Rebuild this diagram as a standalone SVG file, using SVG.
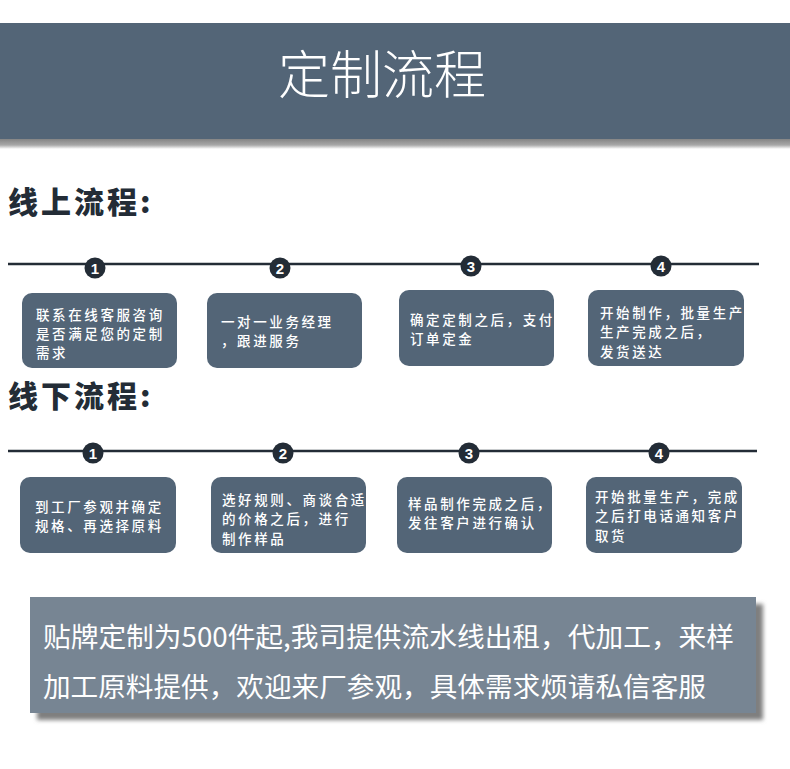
<svg xmlns="http://www.w3.org/2000/svg" width="790" height="769" viewBox="0 0 790 769">
<defs>
<style>
.box{fill:#536577}
.bt{fill:#ffffff;font-family:"Noto Sans CJK SC","Noto Sans",sans-serif;font-size:13.5px;font-weight:500;letter-spacing:2.6px}
.h2{fill:#232c36;font-family:"Noto Sans CJK SC","Noto Sans",sans-serif;font-size:30px;font-weight:900;letter-spacing:3px}
.line{stroke:#232c36;stroke-width:2.5}
.dot{fill:#232c36}
.num{fill:#ffffff;font-family:"Liberation Sans","DejaVu Sans",sans-serif;font-size:15px;font-weight:bold;text-anchor:middle}
.bn{fill:#ffffff;font-family:"Noto Sans CJK SC","Noto Sans",sans-serif;font-size:27px}
</style>
<linearGradient id="hs" x1="0" y1="0" x2="0" y2="1">
<stop offset="0" stop-color="#858585"/>
<stop offset="0.6" stop-color="#a8a8a8"/>
<stop offset="1" stop-color="#ffffff"/>
</linearGradient>
<filter id="blur" x="-5%" y="-20%" width="110%" height="140%">
<feGaussianBlur stdDeviation="2"/>
</filter>
</defs>
<rect width="790" height="769" fill="#ffffff"/>
<g id="header">
<rect x="0" y="139" width="790" height="10" fill="url(#hs)"/>
<rect x="0" y="23" width="790" height="116" fill="#536577"/>
<text x="382" y="94" text-anchor="middle" fill="#ffffff" font-family="Noto Sans CJK SC, sans-serif" font-size="52" font-weight="300">定制流程</text>
</g>
<g id="online-title"><text class="h2" x="8" y="213">线上流程:</text></g>
<g id="connectors">
<line class="line" x1="8" y1="264" x2="759" y2="264"/>
<line class="line" x1="8" y1="451" x2="757" y2="451"/>
</g>
<g id="on-n1"><circle class="dot" cx="95" cy="268" r="10.5"/><text class="num" x="95" y="273.5">1</text></g>
<g id="on-n2"><circle class="dot" cx="280" cy="268" r="10.5"/><text class="num" x="280" y="273.5">2</text></g>
<g id="on-n3"><circle class="dot" cx="471" cy="266" r="10.5"/><text class="num" x="471" y="271.5">3</text></g>
<g id="on-n4"><circle class="dot" cx="661" cy="266" r="10.5"/><text class="num" x="661" y="271.5">4</text></g>
<g id="on-box1"><rect class="box" x="22" y="293" width="155" height="75" rx="10"/>
<text class="bt" x="36" y="320">联系在线客服咨询</text><text class="bt" x="36" y="339">是否满足您的定制</text><text class="bt" x="36" y="358">需求</text></g>
<g id="on-box2"><rect class="box" x="207" y="293" width="155" height="75" rx="10"/>
<text class="bt" x="221" y="327">一对一业务经理</text><text class="bt" x="221" y="346">，跟进服务</text></g>
<g id="on-box3"><rect class="box" x="399" y="290" width="155" height="76" rx="10"/>
<text class="bt" x="410" y="325">确定定制之后，支付</text><text class="bt" x="410" y="344">订单定金</text></g>
<g id="on-box4"><rect class="box" x="588" y="290" width="156" height="76" rx="10"/>
<text class="bt" x="600" y="318">开始制作，批量生产</text><text class="bt" x="600" y="337">生产完成之后，</text><text class="bt" x="600" y="357">发货送达</text></g>
<g id="offline-title"><text class="h2" x="8" y="407">线下流程:</text></g>
<g id="off-n1"><circle class="dot" cx="93" cy="453" r="10.5"/><text class="num" x="93" y="458.5">1</text></g>
<g id="off-n2"><circle class="dot" cx="283" cy="453" r="10.5"/><text class="num" x="283" y="458.5">2</text></g>
<g id="off-n3"><circle class="dot" cx="469" cy="453" r="10.5"/><text class="num" x="469" y="458.5">3</text></g>
<g id="off-n4"><circle class="dot" cx="659" cy="453" r="10.5"/><text class="num" x="659" y="458.5">4</text></g>
<g id="off-box1"><rect class="box" x="20" y="477" width="156" height="76" rx="10"/>
<text class="bt" x="35" y="512">到工厂参观并确定</text><text class="bt" x="35" y="531">规格、再选择原料</text></g>
<g id="off-box2"><rect class="box" x="211" y="477" width="155" height="76" rx="10"/>
<text class="bt" x="222" y="505">选好规则、商谈合适</text><text class="bt" x="222" y="524">的价格之后，进行</text><text class="bt" x="222" y="544">制作样品</text></g>
<g id="off-box3"><rect class="box" x="397" y="477" width="155" height="76" rx="10"/>
<text class="bt" x="408" y="509">样品制作完成之后，</text><text class="bt" x="408" y="528">发往客户进行确认</text></g>
<g id="off-box4"><rect class="box" x="586" y="477" width="156" height="76" rx="10"/>
<text class="bt" x="595" y="502">开始批量生产，完成</text><text class="bt" x="595" y="521">之后打电话通知客户</text><text class="bt" x="595" y="541">取货</text></g>
<g id="banner">
<rect x="37" y="604" width="726" height="116" fill="#7f7f7f" filter="url(#blur)"/>
<rect x="30" y="597" width="726" height="116" fill="#778593"/>
<text class="bn" x="43" y="647" textLength="691" lengthAdjust="spacingAndGlyphs">贴牌定制为500件起,我司提供流水线出租，代加工，来样</text>
<text class="bn" x="43" y="697" textLength="663" lengthAdjust="spacingAndGlyphs">加工原料提供，欢迎来厂参观，具体需求烦请私信客服</text>
</g>
</svg>
